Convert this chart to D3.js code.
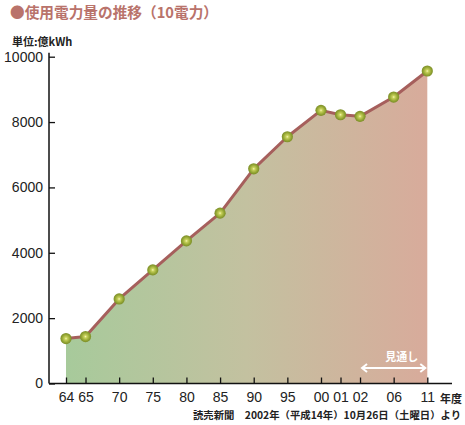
<!DOCTYPE html>
<html><head><meta charset="utf-8">
<script src="https://cdn.jsdelivr.net/npm/d3@7"></script>
<style>
body{margin:0;background:#fff;}
svg{display:block;font-family:"Noto Sans CJK JP","Noto Sans",sans-serif;}
</style></head><body>
<svg id="c" width="465" height="425"></svg>
<script>
const years = [1964,1965,1970,1975,1980,1985,1990,1995,2000,2001,2002,2006,2011];
const tickLabels = ["64","65","70","75","80","85","90","95","00","01","02","06","11"];
const usage = [1375,1436,2588,3476,4364,5213,6570,7550,8358,8224,8175,8766,9562];
const yTicks = [0,2000,4000,6000,8000,10000];
const forecastRange = [2002,2011];

const svg = d3.select("#c");
// uneven category spacing: one-year steps are narrower
const units = [0];
for (let i=1;i<years.length;i++) units.push(units[i-1] + (years[i]-years[i-1]===1 ? 0.58 : 1));
const posByYear = new Map(years.map((y,i)=>[y,units[i]]));
const x = d3.scaleLinear().domain([0, units[units.length-1]]).range([66, 427.3]);
const xp = yr => x(posByYear.get(yr));
const y = d3.scaleLinear().domain([0,10000]).range([383.5,56.7]);

const data = years.map((yr,i)=>({yr, v:usage[i]}));

const defs = svg.append("defs");
const lg = defs.append("linearGradient").attr("id","fillg")
  .attr("gradientUnits","userSpaceOnUse").attr("x1",66).attr("x2",427).attr("y1",0).attr("y2",0);
lg.append("stop").attr("offset","0%").attr("stop-color","#a7ca9b");
lg.append("stop").attr("offset","50%").attr("stop-color","#c3c1a0");
lg.append("stop").attr("offset","100%").attr("stop-color","#d8ab9b");
const rg = defs.append("radialGradient").attr("id","ball").attr("cx","50%").attr("cy","50%").attr("r","55%");
rg.append("stop").attr("offset","0%").attr("stop-color","#f6f6b8");
rg.append("stop").attr("offset","22%").attr("stop-color","#c8d25c");
rg.append("stop").attr("offset","65%").attr("stop-color","#93a533");
rg.append("stop").attr("offset","100%").attr("stop-color","#738524");

// area
svg.append("path").datum(data)
  .attr("d", d3.area().x(d=>xp(d.yr)).y0(y(0)).y1(d=>y(d.v)))
  .attr("fill","url(#fillg)");

// line
svg.append("path").datum(data)
  .attr("d", d3.line().x(d=>xp(d.yr)).y(d=>y(d.v)))
  .attr("fill","none").attr("stroke","#a65f5c").attr("stroke-width",3).attr("stroke-linejoin","round");

// markers
svg.selectAll("circle.pt").data(data).join("circle").attr("class","pt")
  .attr("cx",d=>xp(d.yr)).attr("cy",d=>y(d.v)).attr("r",5.6)
  .attr("fill","url(#ball)");

const numFont = "'Liberation Sans',Arial,sans-serif";
// y axis
const yAxis = svg.append("g").attr("transform","translate(49,0)")
  .call(d3.axisLeft(y).tickValues(yTicks).tickSize(-6).tickPadding(6).tickFormat(d3.format("d")));
yAxis.select(".domain").attr("d",`M0,${y(10000)-4}V${y(0)}`).attr("stroke","#111").attr("stroke-width",1.5);
yAxis.selectAll(".tick line").attr("stroke","#111").attr("stroke-width",1.3);
yAxis.selectAll(".tick text").attr("font-size",14).attr("fill","#222").attr("x",-6)
  .attr("font-family",numFont);

// x axis
const xAxis = svg.append("g").attr("transform",`translate(0,${y(0)})`)
  .call(d3.axisBottom(d3.scaleLinear().domain(x.domain()).range(x.range()))
    .tickValues(units).tickSize(-6).tickPadding(9).tickFormat((d,i)=>tickLabels[i]));
xAxis.select(".domain").attr("d",`M49,0H452`).attr("stroke","#111").attr("stroke-width",1.5);
xAxis.selectAll(".tick line").attr("stroke","#111").attr("stroke-width",1.3);
xAxis.selectAll(".tick text").attr("font-size",14).attr("fill","#222")
  .attr("font-family",numFont);

svg.append("text").attr("x",440).attr("y",y(0)+19).attr("font-size",11).attr("font-weight","bold")
  .attr("fill","#222").text("年度");

// title & unit
svg.append("text").attr("x",10).attr("y",18).attr("font-size",15).attr("font-weight","bold")
  .attr("fill","#b9736b").attr("textLength",208).attr("lengthAdjust","spacingAndGlyphs")
  .text("●使用電力量の推移（10電力）");
svg.append("text").attr("x",12).attr("y",46).attr("font-size",11).attr("font-weight","bold")
  .attr("fill","#222").text("単位:億kWh");

// forecast marker
const ay = 368;
const ax1 = xp(forecastRange[0])+2, ax2 = xp(forecastRange[1])-2;
svg.append("line").attr("x1",ax1).attr("x2",ax2).attr("y1",ay).attr("y2",ay)
  .attr("stroke","#fff").attr("stroke-width",2);
svg.append("path").attr("d",`M${ax1+5},${ay-4}L${ax1},${ay}L${ax1+5},${ay+4}M${ax2-5},${ay-4}L${ax2},${ay}L${ax2-5},${ay+4}`)
  .attr("fill","none").attr("stroke","#fff").attr("stroke-width",2);
svg.append("text").attr("x",(ax1+ax2)/2+8).attr("y",361).attr("text-anchor","middle")
  .attr("font-size",11).attr("font-weight","bold").attr("fill","#fff").text("見通し");

// source
svg.append("text").attr("x",193).attr("y",418.5)
  .attr("font-size",10).attr("font-weight","bold").attr("fill","#222")
  .attr("textLength",268).attr("lengthAdjust","spacingAndGlyphs")
  .text("読売新聞　2002年（平成14年）10月26日（土曜日）より");
</script></body></html>
